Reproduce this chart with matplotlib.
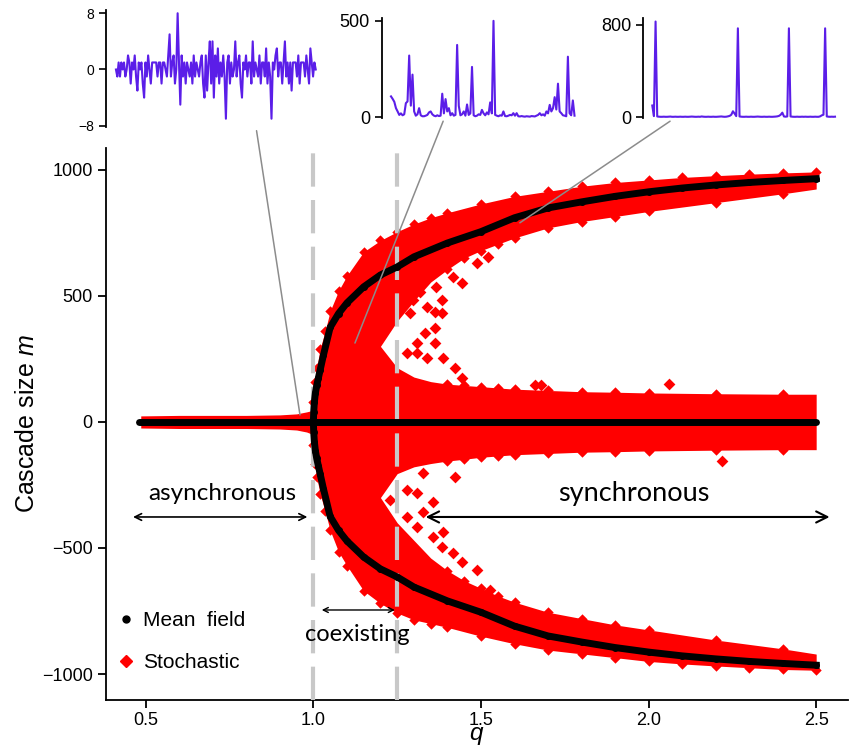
import matplotlib
matplotlib.use('Agg')
import matplotlib.pyplot as plt
from matplotlib.lines import Line2D
from matplotlib.patches import ConnectionPatch

plt.rcParams['font.family'] = ['Liberation Sans', 'DejaVu Sans']
plt.rcParams['mathtext.fontset'] = 'custom'
plt.rcParams['mathtext.rm'] = 'Liberation Sans'
plt.rcParams['mathtext.it'] = 'Liberation Sans:italic'

# ---- stochastic cloud: outer envelope ----
env_q = [0.485, 0.6, 0.8, 0.9, 0.95, 0.98, 0.995, 1.0, 1.005, 1.01, 1.02, 1.035,
         1.05, 1.075, 1.1, 1.15, 1.2, 1.25, 1.3, 1.35, 1.4, 1.5, 1.6, 1.7, 1.8,
         1.9, 2.0, 2.1, 2.2, 2.3, 2.4, 2.5]
env_top = [24, 26, 26, 28, 32, 40, 45, 80, 160, 215, 290, 360, 440, 520, 580, 675,
           720, 755, 785, 810, 830, 865, 895, 915, 935, 950, 960, 970, 977, 983, 988, 992]
env_bot = [-24, -26, -26, -28, -32, -40, -48, -90, -165, -220, -285, -355, -430, -515,
           -570, -670, -720, -758, -785, -800, -815, -850, -880, -905, -920, -935, -950,
           -960, -968, -975, -982, -985]

# empty regions inside the cloud (between the synchronous branches and the zero band)
hole_q = [1.2, 1.25, 1.3, 1.35, 1.4, 1.45, 1.5, 1.55, 1.6, 1.7, 1.8, 1.9, 2.0, 2.2, 2.4, 2.52]
up_hole_lo = [300, 215, 178, 160, 150, 145, 140, 135, 130, 125, 120, 118, 115, 112, 110, 110]
up_hole_hi = [300, 400, 480, 555, 605, 650, 680, 705, 730, 770, 795, 815, 835, 870, 905, 928]
dn_hole_hi = [-300, -205, -178, -165, -155, -148, -140, -135, -130, -125, -120, -118,
              -115, -112, -110, -110]
dn_hole_lo = [-300, -400, -470, -540, -590, -630, -660, -690, -715, -755, -780, -805,
              -825, -865, -900, -925]

# isolated stochastic points in the coexisting region
iso_q = [1.442, 1.487, 1.521, 1.383, 1.363, 1.338, 1.383, 1.363, 1.333, 1.363, 1.308,
         1.278, 1.308, 1.338, 1.387, 1.422, 1.442, 1.661, 1.288, 1.258, 1.298, 1.318,
         1.367, 1.417, 1.169, 1.189,
         1.278, 1.308, 1.358, 1.278, 1.328, 1.308, 1.358, 1.387, 1.383, 1.417, 1.442,
         1.487, 1.422, 1.328, 1.228, 1.169, 1.527, 1.68, 2.06, 2.22]
iso_m = [550, 630, 656, 484, 438, 457, 431, 372, 352, 312, 312, 273, 273, 253, 253, 213,
         173, 147, 431, 471, 484, 517, 537, 577, 365, 259,
         -270, -283, -316, -376, -356, -415, -455, -435, -495, -521, -554, -587, -217,
         -204, -310, -362, -667, 145, 150, -155]

# ---- mean field ----
mf_q = [1.0, 1.001, 1.003, 1.006, 1.01, 1.015, 1.02, 1.03, 1.05, 1.075, 1.1, 1.15, 1.2,
        1.25, 1.3, 1.4, 1.5, 1.6, 1.7, 1.8, 1.9, 2.0, 2.1, 2.2, 2.3, 2.4, 2.5]
mf_up = [0, 40, 80, 115, 145, 175, 205, 265, 375, 430, 472, 536, 583, 615, 655, 710, 755,
         810, 849, 873, 895, 913, 928, 940, 950, 958, 965]
mf_dn = [0, -40, -80, -115, -145, -175, -205, -265, -375, -430, -472, -536, -583, -615,
         -655, -710, -755, -810, -849, -873, -895, -913, -928, -940, -950, -958, -965]
mf0_q = [0.48, 2.5]
mf0_m = [0, 0]

# ---- inset time series ----
ts_async = [0, -1, 1, -1, 1, 0, 1, -1, 0, 2, 1, -2, 1, 0, 2, -1, -3, 1, 0, 1,
            -2, -4, 1, -1, 2, 0, -2, 1, 1, 1, 1, -1, 1, 1, -2, 1, 1, 0, -1, 2,
            5, -1, 1, 2, -2, 0, 8, 1, -5, 2, -1, 1, -2, 1, 0, -1, 1, -2, 2, -1,
            1, 0, -1, 1, 2, -2, -4, 2, -3, 1, 4, -2, 4, -4, 2, -1, 3, -2, 1, -1,
            2, -1, -7, 1, 2, -2, 1, -1, 0, 4, -1, 1, 2, -2, -4, 1, 0, 2, -1, 1,
            1, -2, 4, -1, 1, 0, -1, 2, -2, 1, 1, -1, 3, -2, 1, -1, -7, 1, 0, 2,
            3, -1, 1, 1, -2, 1, 4, -1, 1, -2, 1, -3, 1, 1, 1, -1, 2, -2, 1, 1,
            1, -1, 2, 0, -2, 3, 1, -1, 1, 0]
ts_coex = [108, 95, 80, 47, 30, 12, 20, 10, 15, 73, 82, 320, 60, 221, 30, 8, 15, 47, 10, 5,
           5, 8, 12, 25, 30, 15, 8, 5, 10, 6, 8, 122, 20, 94, 30, 47, 10, 21, 8, 12,
           375, 59, 10, 15, 30, 8, 66, 12, 20, 261, 10, 5, 8, 15, 12, 38, 20, 10, 25, 15,
           77, 20, 500, 12, 8, 5, 10, 8, 30, 6, 5, 8, 12, 10, 21, 8, 21, 5, 4, 6,
           4, 3, 5, 4, 3, 6, 5, 4, 8, 12, 21, 10, 15, 8, 30, 20, 64, 30, 47, 104,
           40, 174, 30, 21, 10, 8, 5, 314, 21, 10, 87, 8]
ts_sync = [100, 8, 829, 5, 3, 2, 2, 3, 2, 2, 3, 4, 2, 2, 3, 2, 2, 3, 2, 2,
           3, 2, 2, 3, 4, 3, 2, 2, 3, 2, 5, 3, 2, 2, 3, 2, 2, 3, 2, 2,
           3, 4, 5, 3, 2, 3, 6, 10, 20, 50, 30, 8, 770, 5, 3, 2, 2, 3, 2, 2,
           3, 2, 2, 3, 4, 3, 2, 2, 3, 2, 2, 3, 2, 2, 3, 4, 6, 10, 20, 38, 5, 3,
           5, 770, 5, 3, 2, 2, 3, 2, 2, 3, 2, 3, 2, 2, 3, 2, 2, 3, 2, 2,
           6, 15, 20, 770, 5, 3, 2, 3, 2, 3]

RED = '#ff0000'
PURPLE = '#5b1ee8'
GRAY_DASH = '#c8c8c8'

fig = plt.figure(figsize=(8.54, 7.48), dpi=100)
ax = fig.add_axes([0.124, 0.0642, 0.869, 0.738])

# stochastic cloud
ax.fill_between(env_q, env_bot, env_top, color=RED, lw=0, zorder=1)
ax.fill_between(hole_q, up_hole_lo, up_hole_hi, color='white', lw=0, zorder=2)
ax.fill_between(hole_q, dn_hole_lo, dn_hole_hi, color='white', lw=0, zorder=2)
ax.scatter(env_q[7:] + env_q[7:], env_top[7:] + env_bot[7:], marker='D', s=28, color=RED,
           lw=0, zorder=3)
# ragged edges of the zero band and of the inner side of the branches
ax.scatter(hole_q[4:-1] * 4, up_hole_lo[4:-1] + dn_hole_hi[4:-1] + up_hole_hi[4:-1] + dn_hole_lo[4:-1],
           marker='D', s=28, color=RED, lw=0, zorder=3)
ax.scatter(iso_q, iso_m, marker='D', s=36, color=RED, lw=0, zorder=3)

# phase borders
for qv in (1.0, 1.25):
    ax.axvline(qv, color=GRAY_DASH, lw=3, ls=(0, (8, 3.2)), zorder=4)

# mean field
ax.plot(mf0_q, mf0_m, color='black', lw=5, solid_capstyle='round', zorder=5)
ax.plot(mf_q, mf_up, color='black', lw=5, marker='o', ms=4, zorder=5)
ax.plot(mf_q, mf_dn, color='black', lw=5, marker='o', ms=4, zorder=5)

ax.set_xlim(0.381, 2.595)
ax.set_ylim(-1103, 1087)
ax.set_xticks([0.5, 1.0, 1.5, 2.0, 2.5])
ax.set_xticklabels(['0.5', '1.0', '1.5', '2.0', '2.5'])
ax.set_yticks([-1000, -500, 0, 500, 1000])
ax.set_yticklabels(['\u22121000', '\u2212500', '0', '500', '1000'])
ax.tick_params(labelsize=13, length=6, width=1.3, direction='out')
ax.tick_params(axis='x', pad=2.5)
for s in ('top', 'right'):
    ax.spines[s].set_visible(False)
for s in ('left', 'bottom'):
    ax.spines[s].set_linewidth(1.3)
ax.set_ylabel(r'Cascade size $m$', fontsize=18, labelpad=2)
ax.set_xlabel(r'$q$', fontsize=17.5)
ax.xaxis.set_label_coords(0.5, -0.046)

# regime labels
lato = ['Lato', 'DejaVu Sans']
ax.text(0.727, -282, 'asynchronous', ha='center', va='center', fontsize=17.5, family=lato,
        zorder=7)
ax.annotate('', xy=(0.462, -377), xytext=(0.982, -377),
            arrowprops=dict(arrowstyle='<->', lw=1.2, color='black', mutation_scale=12,
                            shrinkA=0, shrinkB=0))
ax.text(1.957, -282, 'synchronous', ha='center', va='center', fontsize=19.5, family=lato,
        zorder=7)
ax.annotate('', xy=(1.335, -377), xytext=(2.54, -377),
            arrowprops=dict(arrowstyle='<->', lw=1.5, color='black', mutation_scale=20,
                            shrinkA=0, shrinkB=0))
ax.text(1.13, -842, 'coexisting', ha='center', va='center', fontsize=17, family=lato,
        zorder=7)
ax.annotate('', xy=(1.025, -746), xytext=(1.243, -746),
            arrowprops=dict(arrowstyle='<->', lw=1.0, color='black', mutation_scale=9,
                            shrinkA=0, shrinkB=0), zorder=7)

handles = [Line2D([], [], ls='', marker='o', color='black', ms=5),
           Line2D([], [], ls='', marker='D', color=RED, ms=6)]
ax.legend(handles, ['Mean  field', 'Stochastic'], loc='lower left', bbox_to_anchor=(-0.012, 0.016),
          frameon=False, fontsize=15, handlelength=1.0, handletextpad=0.3, labelspacing=1.1)

# insets
def inset(rect, data, ylim, ticks, labels, fs):
    a = fig.add_axes(rect)
    a.plot(range(len(data)), data, color=PURPLE, lw=1.5)
    a.set_ylim(*ylim)
    a.set_xlim(-0.05 * len(data), len(data) * 1.02)
    a.set_yticks(ticks)
    a.set_yticklabels(labels)
    a.set_xticks([])
    for s in ('top', 'right', 'bottom'):
        a.spines[s].set_visible(False)
    a.spines['left'].set_linewidth(1.3)
    a.tick_params(labelsize=fs, length=5, width=1.2)
    a.patch.set_alpha(0)
    return a

in1 = inset([0.124, 0.830, 0.252, 0.157], ts_async, (-8.2, 8.5), [-8, 0, 8], ['\u22128', '0', '8'], 10)
in2 = inset([0.447, 0.842, 0.232, 0.134], ts_coex, (-5, 515), [0, 500], ['0', '500'], 13)
in3 = inset([0.753, 0.842, 0.231, 0.134], ts_sync, (-10, 860), [0, 800], ['0', '800'], 13)

# connectors from insets to the points they show
for a, xa, qb, mb in ((in1, 0.70, 0.96, 28), (in2, 0.31, 1.124, 313), (in3, 0.137, 1.616, 790)):
    con = ConnectionPatch(xyA=(xa, -0.03), coordsA=a.transAxes, xyB=(qb, mb), coordsB=ax.transData,
                          color='#8c8c8c', lw=1.1, zorder=6)
    fig.add_artist(con)

fig.savefig('out.png', dpi=100)
